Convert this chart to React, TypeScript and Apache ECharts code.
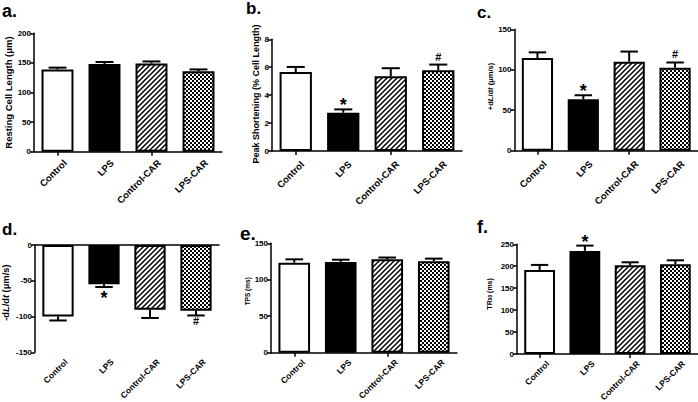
import React, { useEffect, useRef } from 'react';
import * as echarts from 'echarts';

const categories = ['Control', 'LPS', 'Control-CAR', 'LPS-CAR'];

const restingLength = [139, 148, 149, 136];
const restingLengthSem = [3, 3.5, 3.5, 3];
const peakShortening = [5.66, 2.74, 5.36, 5.79];
const peakShorteningSem = [0.36, 0.24, 0.57, 0.4];
const plusDLdt = [114.5, 63.5, 110, 102.5];
const plusDLdtSem = [7, 5, 12.5, 6.5];
const minusDLdt = [-100, -55, -90.5, -92];
const minusDLdtSem = [5.5, 3.7, 11.5, 6.5];
const tps = [123.5, 124.5, 128, 125.5];
const tpsSem = [4.5, 3, 2.5, 3.5];
const tr90 = [191.5, 235, 202, 204.5];
const tr90Sem = [11.5, 12, 7, 9];

const marksA = ['', '', '', ''];
const marksB = ['', '*', '', '#'];
const marksC = ['', '*', '', '#'];
const marksD = ['', '*', '', '#'];
const marksE = ['', '', '', ''];
const marksF = ['', '*', '', ''];

const panelLetters = ['a.', 'b.', 'c.', 'd.', 'e.', 'f.'];
const yTitles = [
  'Resting Cell Length (μm)',
  'Peak Shortening (% Cell Length)',
  '+d{i|L}/d{i|t} (μm/s)',
  '-d{i|L}/d{i|t} (μm/s)',
  'TPS (ms)',
  'TR{sub|90} (ms)',
];
const yMins = [0, 0, 0, -150, 0, 0];
const yMaxs = [200, 8, 150, 0, 150, 250];
const ySteps = [50, 2, 50, 50, 50, 50];

const FONT = 'Liberation Sans, Arial, sans-serif';

function makePatterns() {
  const hatch = document.createElement('canvas');
  hatch.width = 5;
  hatch.height = 5;
  const h = hatch.getContext('2d')!;
  h.fillStyle = '#fff';
  h.fillRect(0, 0, 5, 5);
  h.strokeStyle = '#000';
  h.lineWidth = 1.5;
  h.beginPath();
  h.moveTo(-1, 6);
  h.lineTo(6, -1);
  h.moveTo(-1, 1);
  h.lineTo(1, -1);
  h.moveTo(4, 6);
  h.lineTo(6, 4);
  h.stroke();

  const check = document.createElement('canvas');
  check.width = 4;
  check.height = 4;
  const c = check.getContext('2d')!;
  c.fillStyle = '#fff';
  c.fillRect(0, 0, 4, 4);
  c.fillStyle = '#000';
  c.fillRect(0, 0, 2, 2);
  c.fillRect(2, 2, 2, 2);
  return { hatch, check };
}

export default function App() {
  const ref = useRef<HTMLDivElement>(null);
  useEffect(() => {
    if (!ref.current) return;
    const chart = echarts.init(ref.current, null, { renderer: 'svg' });
    const { hatch, check } = makePatterns();
    const fills: any[] = [
      '#ffffff',
      '#000000',
      { image: hatch, repeat: 'repeat' },
      { image: check, repeat: 'repeat' },
    ];

    const values = [restingLength, peakShortening, plusDLdt, minusDLdt, tps, tr90];
    const sems = [restingLengthSem, peakShorteningSem, plusDLdtSem, minusDLdtSem, tpsSem, tr90Sem];
    const marks = [marksA, marksB, marksC, marksD, marksE, marksF];

    const grids = [
      { left: 34, top: 33.3, width: 188, height: 118.4 },
      { left: 272, top: 39.3, width: 190, height: 111.7 },
      { left: 514.5, top: 29.3, width: 183.5, height: 121.4 },
      { left: 35, top: 245, width: 184, height: 107.3 },
      { left: 271, top: 243.3, width: 186, height: 109.4 },
      { left: 517, top: 244.3, width: 181, height: 109.7 },
    ];
    const nameGaps = [19, 12, 14, 25, 20, 24];
    const nameSizes = [9.5, 9, 7.5, 9.3, 6.5, 7];
    const nameShift = [0, 2.5, 7, 12, 13.5, 10.5];
    const letterPos = [
      { x: 2, y: 2, s: 18 },
      { x: 246, y: 0, s: 17 },
      { x: 477, y: 4, s: 17 },
      { x: 2, y: 221, s: 17 },
      { x: 240, y: 224, s: 19 },
      { x: 477, y: 218, s: 18 },
    ];
    const labelRot = [45, 45, 45, 45, 45, 45];
    const labelSize = [9.5, 9.5, 9.5, 8.5, 8.5, 8.5];
    const labelDx = [4, 3, 4, 5, 6, 5];
    const labelDy = [6, 8, 8, 5, 5, 5];

    const xAxes: any[] = [];
    const yAxes: any[] = [];
    const series: any[] = [];

    values.forEach((vals, p) => {
      const isNeg = p === 3;
      xAxes.push({
        type: 'category',
        gridIndex: p,
        data: categories,
        position: isNeg ? 'top' : 'bottom',
        axisLine: { show: true, onZero: false, lineStyle: { color: '#000', width: 1.5 } },
        axisTick: { show: !isNeg, alignWithLabel: true, length: 4, lineStyle: { color: '#000', width: 1.5 } },
        axisLabel: { show: false },
        splitLine: { show: false },
      });
      yAxes.push({
        type: 'value',
        gridIndex: p,
        min: yMins[p],
        max: yMaxs[p],
        interval: ySteps[p],
        name: yTitles[p],
        nameLocation: 'middle',
        nameGap: nameGaps[p],
        nameTextStyle: {
          fontSize: nameSizes[p],
          fontWeight: 'bold',
          fontFamily: FONT,
          color: '#000',
          padding: [0, 0, 0, nameShift[p]],
          rich: {
            i: { fontSize: nameSizes[p], fontWeight: 'bold', fontStyle: 'italic', fontFamily: FONT, color: '#000' },
            sub: { fontSize: nameSizes[p] * 0.7, fontWeight: 'bold', fontFamily: FONT, color: '#000', verticalAlign: 'bottom' },
          },
        },
        axisLine: { show: true, onZero: false, lineStyle: { color: '#000', width: 1.5 } },
        axisTick: { show: true, length: 4, lineStyle: { color: '#000', width: 1.5 } },
        axisLabel: { fontSize: 8, fontWeight: 'bold', fontFamily: FONT, color: '#000', margin: 3 },
        splitLine: { show: false },
      });
    });

    values.forEach((vals, p) => {
      series.push({
        type: 'bar',
        xAxisIndex: p,
        yAxisIndex: p,
        barWidth: '68%',
        z: 2,
        data: vals.map((v, i) => ({
          value: v,
          itemStyle: { color: fills[i], borderColor: '#000', borderWidth: 2 },
        })),
      });
      const semArr = sems[p];
      const markArr = marks[p];
      series.push({
        type: 'custom',
        xAxisIndex: p,
        yAxisIndex: p,
        z: 3,
        data: vals.map((v, i) => [i, v, semArr[i]]),
        renderItem: (params: any, api: any) => {
          const i = api.value(0);
          const v = api.value(1);
          const e = api.value(2);
          const dir = v < 0 ? -1 : 1;
          const base = api.coord([i, v]);
          const tip = api.coord([i, v + dir * e]);
          const band = api.size([1, 0])[0];
          const cap = band * 0.68 * 0.28;
          const st = { stroke: '#000', lineWidth: 2 };
          const children: any[] = [
            { type: 'line', shape: { x1: base[0], y1: base[1], x2: tip[0], y2: tip[1] }, style: st },
            { type: 'line', shape: { x1: tip[0] - cap, y1: tip[1], x2: tip[0] + cap, y2: tip[1] }, style: st },
          ];
          const m = markArr[params.dataIndex];
          if (m) {
            const star = m === '*';
            let y: number;
            if (dir > 0) y = star ? tip[1] - 3.9 : tip[1] - 8;
            else y = star ? tip[1] + 10.9 : tip[1] + 6;
            children.push({
              type: 'text',
              x: tip[0],
              y,
              style: {
                text: m,
                fontSize: star ? 18 : 11,
                fontWeight: 'bold',
                fontFamily: FONT,
                fill: '#000',
                align: 'center',
                verticalAlign: 'middle',
              },
            });
          }
          return { type: 'group', children };
        },
      });
      // rotated category labels below each plot
      series.push({
        type: 'custom',
        xAxisIndex: p,
        yAxisIndex: p,
        z: 3,
        clip: false,
        data: categories.map((c, i) => [i, yMins[p]]),
        renderItem: (params: any, api: any) => {
          const pt = api.coord([api.value(0), api.value(1)]);
          return {
            type: 'text',
            x: pt[0] + labelDx[p],
            y: pt[1] + labelDy[p],
            rotation: (labelRot[p] * Math.PI) / 180,
            style: {
              text: categories[params.dataIndex],
              fontSize: labelSize[p],
              fontWeight: 'bold',
              fontFamily: FONT,
              fill: '#000',
              align: 'right',
              verticalAlign: 'top',
            },
          };
        },
      });
    });

    const graphic = panelLetters.map((t, k) => ({
      type: 'text',
      left: letterPos[k].x,
      top: letterPos[k].y,
      style: {
        text: t,
        fontSize: letterPos[k].s,
        fontWeight: 'bold',
        fontFamily: FONT,
        fill: '#000',
      },
    }));

    chart.setOption({
      animation: false,
      backgroundColor: '#fff',
      grid: grids,
      xAxis: xAxes,
      yAxis: yAxes,
      series,
      graphic,
    });
    return () => chart.dispose();
  }, []);
  return (
    <div
      ref={ref}
      style={{ position: 'absolute', left: 0, top: 0, width: 698, height: 402 }}
    />
  );
}
